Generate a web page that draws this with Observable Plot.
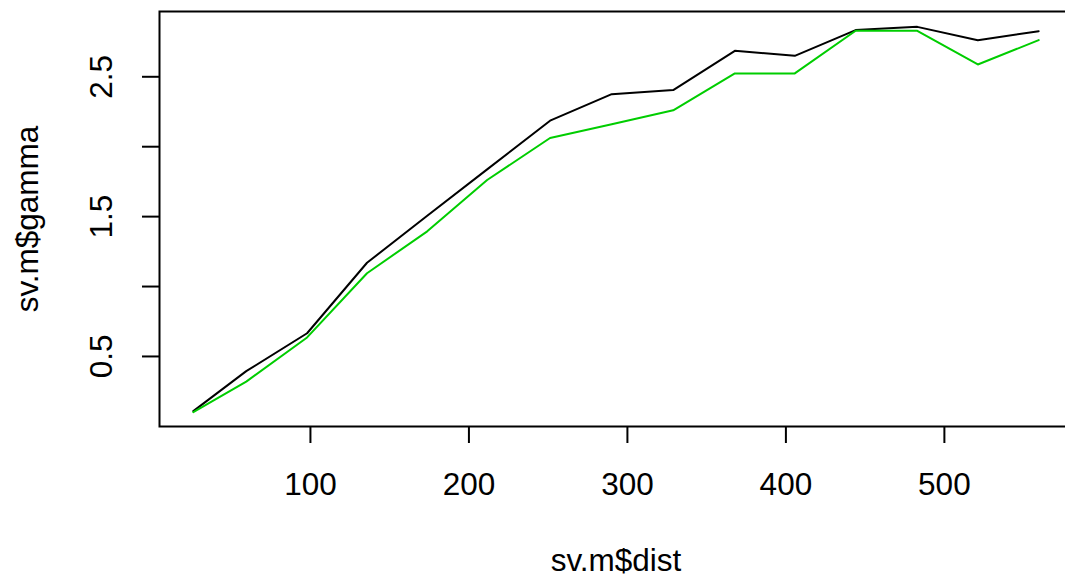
<!DOCTYPE html>
<html><head><meta charset="utf-8">
<script src="https://cdn.jsdelivr.net/npm/d3@7"></script>
<script src="https://cdn.jsdelivr.net/npm/@observablehq/plot@0.6"></script>
<style>html,body{margin:0;padding:0;overflow:hidden;background:#fff}</style>
</head><body><div id="chart"></div>
<script>
const dist = [26.1, 59.5, 97.9, 135.7, 173.7, 211.5, 251.2, 290.1, 328.9, 367.8, 405.6, 444.0, 482.9, 521.1, 559.5];
const gammaBlack = [0.109, 0.395, 0.666, 1.17, 1.506, 1.838, 2.186, 2.376, 2.405, 2.686, 2.65, 2.834, 2.857, 2.762, 2.826];
const gammaGreen = [0.102, 0.32, 0.636, 1.095, 1.395, 1.762, 2.062, 2.161, 2.26, 2.524, 2.524, 2.829, 2.829, 2.588, 2.762];
const xTicks = [100, 200, 300, 400, 500];
const yTicks = [0.5, 1, 1.5, 2, 2.5];
const yTickLabels = ["0.5", "", "1.5", "", "2.5"];
const xTitle = "sv.m$dist";
const yTitle = "sv.m$gamma";

const FS = 31.5;
const LW = 2;
const xr = d3.extent(dist), yr = d3.extent(gammaBlack);
const xpad = (xr[1] - xr[0]) * 0.04, ypad = (yr[1] - yr[0]) * 0.04;

const chart = Plot.plot({
  width: 1065, height: 578,
  marginLeft: 159, marginRight: -7, marginTop: 11, marginBottom: 152,
  style: {fontFamily: "'Liberation Sans', Arial, Helvetica, sans-serif", fontSize: FS + "px", background: "#fff", color: "#000", overflow: "hidden"},
  x: {domain: [xr[0] - xpad, xr[1] + xpad]},
  y: {domain: [yr[0] - ypad, yr[1] + ypad]},
  marks: [
    Plot.axisX({ticks: xTicks, tickSize: 17, tickPadding: 29.6, strokeWidth: LW, label: null, tickFormat: d => String(d), fontSize: FS}),
    Plot.axisY({ticks: yTicks, tickSize: 17, strokeWidth: LW, label: null, tickFormat: () => "", fontSize: FS}),
    Plot.text(yTicks, {y: yTicks, text: yTickLabels, frameAnchor: "left", rotate: -90, lineAnchor: "bottom", textAnchor: "middle", dx: -47.3, fontSize: FS, fill: "#000"}),
    Plot.text([xTitle], {text: d => d, frameAnchor: "bottom", lineAnchor: "bottom", textAnchor: "middle", dy: 144, fontSize: FS, fill: "#000"}),
    Plot.text([yTitle], {text: d => d, frameAnchor: "left", rotate: -90, lineAnchor: "bottom", textAnchor: "middle", dx: -121.7, fontSize: FS, fill: "#000"}),
    Plot.line(dist, {x: dist, y: gammaBlack, stroke: "#000", strokeWidth: LW}),
    Plot.line(dist, {x: dist, y: gammaGreen, stroke: "#00CD00", strokeWidth: LW}),
    Plot.frame({stroke: "#000", strokeWidth: LW})
  ]
});
document.getElementById("chart").appendChild(chart);
</script>
</body></html>
